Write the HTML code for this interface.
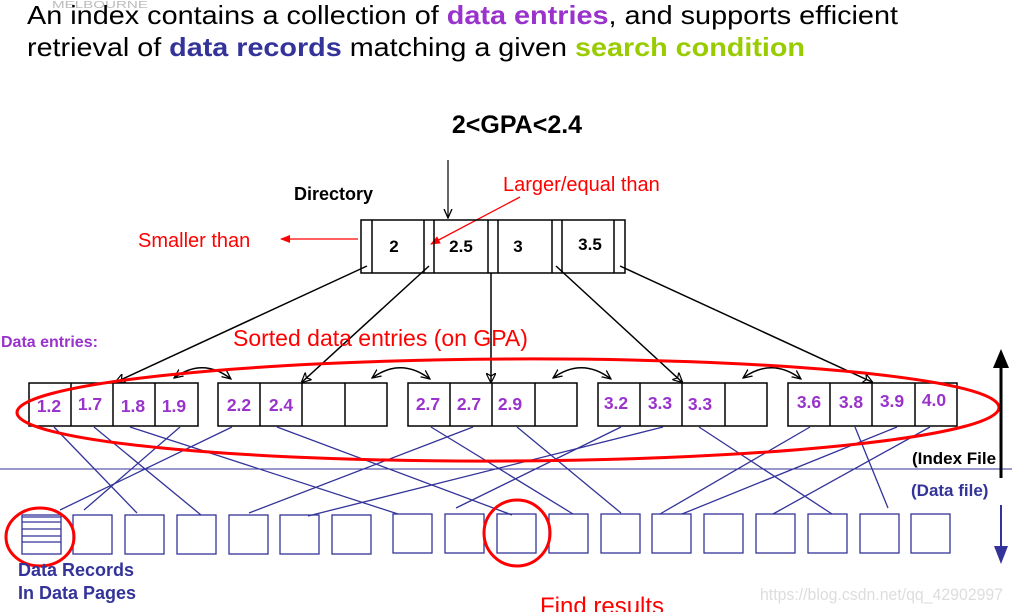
<!DOCTYPE html>
<html><head><meta charset="utf-8"><style>
html,body{margin:0;padding:0;background:#fff;}
svg{display:block;font-family:"Liberation Sans",Arial,sans-serif;}
</style></head><body>
<svg width="1012" height="612" viewBox="0 0 1012 612" xmlns="http://www.w3.org/2000/svg">
<defs>
<marker id="ab" markerWidth="10" markerHeight="10" refX="9" refY="5" orient="auto" markerUnits="userSpaceOnUse"><path d="M0,0 L10,5 L0,10 L3,5 z" fill="none" stroke="#000" stroke-width="1.2"/></marker>
<marker id="ar" markerWidth="10" markerHeight="8" refX="9" refY="4" orient="auto" markerUnits="userSpaceOnUse"><path d="M0,0 L10,4 L0,8 z" fill="#f00"/></marker>
<marker id="ak" markerWidth="10" markerHeight="10" refX="9" refY="5" orient="auto" markerUnits="userSpaceOnUse"><path d="M0,1 L9,5 L0,9" fill="none" stroke="#000" stroke-width="1.3"/></marker>
<marker id="aks" markerWidth="10" markerHeight="10" refX="9" refY="5" orient="auto-start-reverse" markerUnits="userSpaceOnUse"><path d="M0,1 L9,5 L0,9" fill="none" stroke="#000" stroke-width="1.3"/></marker>
</defs>
<text x="52" y="8" font-size="10" fill="#bbb" textLength="96" lengthAdjust="spacingAndGlyphs">MELBOURNE</text>
<text x="27" y="24" font-size="26" textLength="871" lengthAdjust="spacingAndGlyphs">An index contains a collection of <tspan fill="#9933cc" font-weight="bold">data entries</tspan>, and supports efficient</text>
<text x="27" y="56" font-size="26" textLength="778" lengthAdjust="spacingAndGlyphs">retrieval of <tspan fill="#333399" font-weight="bold">data records</tspan> matching a given <tspan fill="#99cc00" font-weight="bold">search condition</tspan></text>

<text x="517" y="133" font-size="25" font-weight="bold" text-anchor="middle">2&lt;GPA&lt;2.4</text>
<line x1="448" y1="160" x2="448" y2="218" stroke="#000" stroke-width="1.2" marker-end="url(#ak)"/>
<text x="294" y="200" font-size="18" font-weight="bold">Directory</text>
<text x="503" y="191" font-size="20" fill="#f00">Larger/equal than</text>
<line x1="520" y1="197" x2="431" y2="244" stroke="#f00" stroke-width="1.3" marker-end="url(#ar)"/>
<text x="138" y="247" font-size="20" fill="#f00">Smaller than</text>
<line x1="358" y1="239" x2="281" y2="239" stroke="#f00" stroke-width="1.3" marker-end="url(#ar)"/>

<g fill="none" stroke="#000" stroke-width="1.5">
<rect x="361" y="220" width="264" height="53"/>
<line x1="372" y1="220" x2="372" y2="273"/><line x1="424" y1="220" x2="424" y2="273"/>
<line x1="434" y1="220" x2="434" y2="273"/><line x1="488" y1="220" x2="488" y2="273"/>
<line x1="498" y1="220" x2="498" y2="273"/><line x1="552" y1="220" x2="552" y2="273"/>
<line x1="562" y1="220" x2="562" y2="273"/><line x1="614" y1="220" x2="614" y2="273"/>
</g>
<g font-size="17" font-weight="bold" text-anchor="middle">
<text x="394" y="252">2</text><text x="461" y="252">2.5</text><text x="518" y="252">3</text><text x="590" y="250">3.5</text>
</g>

<g stroke="#000" stroke-width="1.5" fill="none">
<line x1="367" y1="266" x2="116" y2="382" marker-end="url(#ab)"/>
<line x1="429" y1="266" x2="302" y2="382" marker-end="url(#ab)"/>
<line x1="491" y1="273" x2="491" y2="382" marker-end="url(#ab)"/>
<line x1="556" y1="266" x2="682" y2="382" marker-end="url(#ab)"/>
<line x1="620" y1="266" x2="872" y2="382" marker-end="url(#ab)"/>
<path d="M174,378 Q203,357 231,379" marker-start="url(#aks)" marker-end="url(#aks)"/>
<path d="M372,378 Q401,357 430,379" marker-start="url(#aks)" marker-end="url(#aks)"/>
<path d="M553,378 Q582,357 611,379" marker-start="url(#aks)" marker-end="url(#aks)"/>
<path d="M743,378 Q772,357 801,379" marker-start="url(#aks)" marker-end="url(#aks)"/>
</g>

<text x="1" y="347" font-size="16" font-weight="bold" fill="#9933cc">Data entries:</text>
<text x="233" y="346" font-size="23" fill="#f00">Sorted data entries (on GPA)</text>

<g fill="none" stroke="#000" stroke-width="1.5">
<rect x="29" y="383" width="169" height="43"/><line x1="71" y1="383" x2="71" y2="426"/><line x1="113" y1="383" x2="113" y2="426"/><line x1="155" y1="383" x2="155" y2="426"/>
<rect x="218" y="383" width="169" height="43"/><line x1="260" y1="383" x2="260" y2="426"/><line x1="302" y1="383" x2="302" y2="426"/><line x1="345" y1="383" x2="345" y2="426"/>
<rect x="408" y="383" width="169" height="43"/><line x1="450" y1="383" x2="450" y2="426"/><line x1="492" y1="383" x2="492" y2="426"/><line x1="535" y1="383" x2="535" y2="426"/>
<rect x="598" y="383" width="169" height="43"/><line x1="640" y1="383" x2="640" y2="426"/><line x1="682" y1="383" x2="682" y2="426"/><line x1="725" y1="383" x2="725" y2="426"/>
<rect x="788" y="383" width="169" height="43"/><line x1="830" y1="383" x2="830" y2="426"/><line x1="872" y1="383" x2="872" y2="426"/><line x1="915" y1="383" x2="915" y2="426"/>
</g>
<g font-size="17.5" font-weight="bold" fill="#9933cc" text-anchor="middle">
<text x="49" y="412">1.2</text><text x="90" y="410">1.7</text><text x="133" y="412">1.8</text><text x="174" y="412">1.9</text>
<text x="239" y="411">2.2</text><text x="281" y="411">2.4</text>
<text x="428" y="410">2.7</text><text x="469" y="410">2.7</text><text x="510" y="410">2.9</text>
<text x="616" y="409">3.2</text><text x="660" y="409">3.3</text><text x="700" y="410">3.3</text>
<text x="809" y="408">3.6</text><text x="851" y="408">3.8</text><text x="892" y="407">3.9</text><text x="934" y="406">4.0</text>
</g>

<line x1="0" y1="469" x2="1012" y2="469" stroke="#333399" stroke-width="1"/>

<g stroke="#333399" stroke-width="1.3">
<line x1="54" y1="427" x2="137" y2="513"/><line x1="94" y1="427" x2="201" y2="515"/>
<line x1="130" y1="427" x2="398" y2="514"/><line x1="180" y1="427" x2="84" y2="510"/>
<line x1="232" y1="427" x2="60" y2="510"/><line x1="277" y1="427" x2="512" y2="515"/>
<line x1="473" y1="427" x2="249" y2="513"/><line x1="431" y1="427" x2="573" y2="514"/>
<line x1="517" y1="427" x2="621" y2="513"/><line x1="663" y1="427" x2="308" y2="516"/>
<line x1="621" y1="427" x2="456" y2="508"/><line x1="699" y1="427" x2="832" y2="514"/>
<line x1="810" y1="427" x2="660" y2="514"/><line x1="855" y1="427" x2="888" y2="508"/>
<line x1="897" y1="427" x2="682" y2="514"/><line x1="930" y1="427" x2="773" y2="514"/>
</g>

<g fill="none" stroke="#333399" stroke-width="1.3">
<rect x="22" y="515" width="39" height="39"/>
<line x1="22" y1="517" x2="61" y2="517"/><line x1="22" y1="522" x2="61" y2="522"/><line x1="22" y1="529" x2="61" y2="529"/><line x1="22" y1="536" x2="61" y2="536"/><line x1="22" y1="542" x2="61" y2="542"/>
<rect x="73" y="515" width="39" height="39"/><rect x="125" y="515" width="39" height="39"/><rect x="177" y="515" width="39" height="39"/>
<rect x="229" y="515" width="39" height="39"/><rect x="280" y="515" width="39" height="39"/><rect x="332" y="515" width="39" height="39"/>
<rect x="393" y="514" width="39" height="39"/><rect x="445" y="514" width="39" height="39"/><rect x="497" y="514" width="39" height="39"/>
<rect x="549" y="514" width="39" height="39"/><rect x="601" y="514" width="39" height="39"/><rect x="652" y="514" width="39" height="39"/>
<rect x="704" y="514" width="39" height="39"/><rect x="756" y="514" width="39" height="39"/><rect x="808" y="514" width="39" height="39"/>
<rect x="860" y="514" width="39" height="39"/><rect x="911" y="514" width="39" height="39"/>
</g>

<g fill="none" stroke="#f00" stroke-width="3">
<ellipse cx="508" cy="410" rx="491" ry="51" transform="rotate(-0.3 508 410)"/>
<ellipse cx="40" cy="537" rx="34" ry="29"/>
<circle cx="517" cy="533" r="33"/>
</g>

<line x1="1001" y1="478" x2="1001" y2="365" stroke="#000" stroke-width="3"/>
<path d="M993,368 L1001,349 L1009,368 z" fill="#000"/>
<line x1="1001" y1="505" x2="1001" y2="548" stroke="#333399" stroke-width="2"/>
<path d="M994,546 L1001,564 L1008,546 z" fill="#333399"/>

<text x="912" y="464" font-size="17" font-weight="bold">(Index File</text>
<text x="911" y="496" font-size="17" font-weight="bold" fill="#333399">(Data file)</text>
<text x="18" y="576" font-size="18" font-weight="bold" fill="#333399">Data Records</text>
<text x="18" y="599" font-size="18" font-weight="bold" fill="#333399">In Data Pages</text>
<text x="540" y="614" font-size="24" fill="#f00">Find results</text>
<text x="760" y="600" font-size="17" fill="#ddd" textLength="243" lengthAdjust="spacingAndGlyphs">https://blog.csdn.net/qq_42902997</text>
</svg>
</body></html>
